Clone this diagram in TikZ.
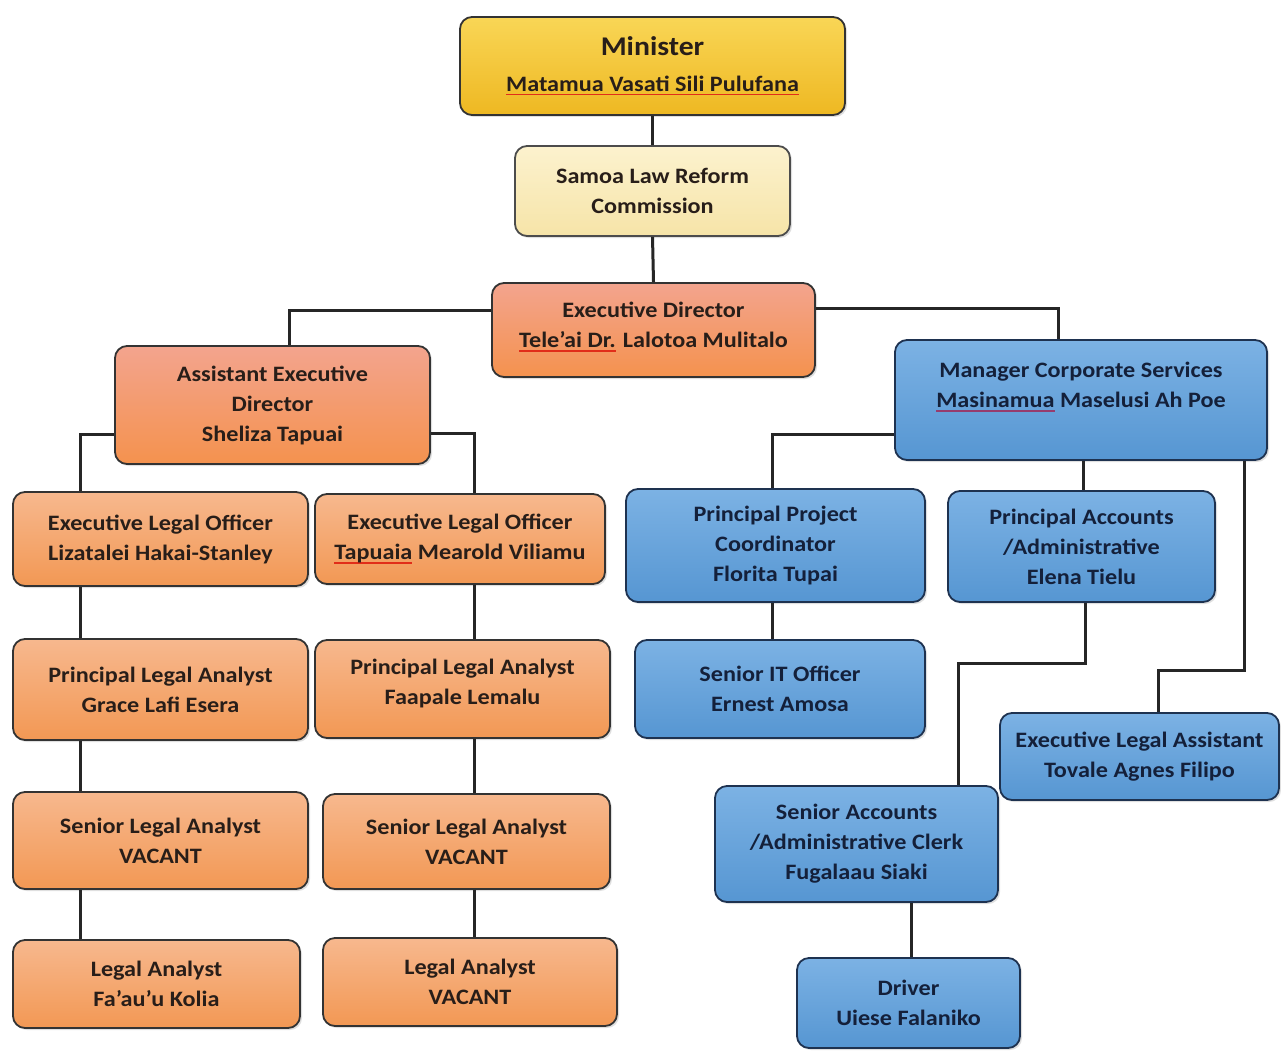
\documentclass[tikz,border=0pt]{standalone}
\usepackage{fontspec}
\setmainfont{Carlito}[FakeStretch=1.1]
\usetikzlibrary{shadows}
\definecolor{txtdark}{RGB}{40,30,25}
\definecolor{txtblue}{RGB}{20,32,58}
\definecolor{ulred}{RGB}{225,45,25}
\definecolor{ulpurple}{RGB}{150,60,110}
\newlength{\myulw}
\newcommand{\redul}[1]{\settowidth{\myulw}{#1}\rlap{\color{ulred}\rule[-4pt]{\myulw}{1.6pt}}#1}
\newcommand{\purpul}[1]{\settowidth{\myulw}{#1}\rlap{\color{ulpurple}\rule[-4pt]{\myulw}{1.4pt}}#1}
\begin{document}
\begin{tikzpicture}[x=1pt,y=-1pt,
  boxbase/.style={line width=1.8pt, rounded corners=12pt, align=center,
    font=\bfseries\fontsize{22}{30}\selectfont, inner sep=2pt,
    drop shadow={opacity=0.25,shadow xshift=2pt,shadow yshift=-2pt}},
  oranbox/.style={boxbase, draw=black!80, text=txtdark,
    top color={rgb,255:red,247;green,184;blue,142}, bottom color={rgb,255:red,242;green,152;blue,84}},
  pinkbox/.style={boxbase, draw=black!80, text=txtdark,
    top color={rgb,255:red,243;green,164;blue,142}, bottom color={rgb,255:red,244;green,146;blue,78}},
  goldbox/.style={boxbase, draw=black!80, text=txtdark,
    top color={rgb,255:red,249;green,214;blue,86}, bottom color={rgb,255:red,238;green,184;blue,34}},
  creambox/.style={boxbase, draw=black!70, text=txtdark,
    top color={rgb,255:red,252;green,242;blue,206}, bottom color={rgb,255:red,246;green,228;blue,168}},
  bluebox/.style={boxbase, draw={rgb,255:red,30;green,50;blue,80}, text=txtblue,
    top color={rgb,255:red,124;green,178;blue,228}, bottom color={rgb,255:red,86;green,150;blue,210}},
  link/.style={draw=black!85, line width=3pt}
]
\useasboundingbox[fill=white] (0,0) rectangle (1281,1051);

% column / joint coordinates
\coordinate (xA) at (289,0);
\coordinate (xMC) at (1058,0);
\coordinate (xL) at (80,0);
\coordinate (xR) at (474,0);
\coordinate (xP) at (772,0);
\coordinate (xM) at (1083,0);
\coordinate (xF) at (1158,0);
\coordinate (xS) at (958,0);
\coordinate (xD) at (911,0);
\coordinate (jE) at (1244,670);
\coordinate (jP) at (1085,663);

% nodes
\node[goldbox, minimum width=385, minimum height=98] (min) at (652.5,66)
  {\fontsize{27}{38}\selectfont Minister\\[6pt] \redul{Matamua Vasati Sili Pulufana}};
\node[creambox, minimum width=275, minimum height=90] (slrc) at (652.5,191)
  {Samoa Law Reform\\Commission};
\node[pinkbox, minimum width=323, minimum height=94, text depth=10pt] (ed) at (653.5,330)
  {Executive Director\\ \redul{Tele'ai Dr.} Lalotoa Mulitalo};
\node[pinkbox, minimum width=315, minimum height=118] (aed) at (272.5,405)
  {Assistant Executive\\Director\\Sheliza Tapuai};

\node[oranbox, minimum width=295, minimum height=94] (elo1) at (160.5,539)
  {Executive Legal Officer\\Lizatalei Hakai-Stanley};
\node[oranbox, minimum width=290, minimum height=90] (elo2) at (460,539)
  {Executive Legal Officer\\ \redul{Tapuaia} Mearold Viliamu};
\node[oranbox, minimum width=295, minimum height=101] (pla1) at (160.5,689.5)
  {Principal Legal Analyst\\Grace Lafi Esera};
\node[oranbox, minimum width=295, minimum height=98, text depth=14pt] (pla2) at (462.5,689)
  {Principal Legal Analyst\\Faapale Lemalu};
\node[oranbox, minimum width=295, minimum height=97] (sla1) at (160.5,840.5)
  {Senior Legal Analyst\\VACANT};
\node[oranbox, minimum width=287, minimum height=95] (sla2) at (466.5,841.5)
  {Senior Legal Analyst\\VACANT};
\node[oranbox, minimum width=287, minimum height=88] (la1) at (156.5,984)
  {Legal Analyst\\Fa'au'u Kolia};
\node[oranbox, minimum width=294, minimum height=88] (la2) at (470,982)
  {Legal Analyst\\VACANT};

\node[bluebox, minimum width=372, minimum height=120] (mcs) at (1081,400)
  {Manager Corporate Services\\ \purpul{Masinamua} Maselusi Ah Poe\\ \mbox{}};
\node[bluebox, minimum width=299, minimum height=113] (ppc) at (775.5,545.5)
  {Principal Project\\Coordinator\\Florita Tupai};
\node[bluebox, minimum width=267, minimum height=111] (paa) at (1081.5,546.5)
  {Principal Accounts\\/Administrative\\Elena Tielu};
\node[bluebox, minimum width=290, minimum height=98] (sito) at (780,689)
  {Senior IT Officer\\Ernest Amosa};
\node[bluebox, minimum width=279, minimum height=87] (ela) at (1139.5,756.5)
  {Executive Legal Assistant\\Tovale Agnes Filipo};
\node[bluebox, minimum width=283, minimum height=116] (saac) at (856.5,844)
  {Senior Accounts\\/Administrative Clerk\\Fugalaau Siaki};
\node[bluebox, minimum width=223, minimum height=90] (drv) at (908.5,1003)
  {Driver\\Uiese Falaniko};

% connectors
\draw[link] (min.south) -- (slrc.north);
\draw[link] (slrc.south) -- (ed.north);
\draw[link] ([yshift=20pt]ed.west) -| (aed.north -| xA);
\draw[link] ([yshift=22pt]ed.east) -| (mcs.north -| xMC);
\draw[link] ([yshift=-29pt]aed.west) -| (elo1.north -| xL);
\draw[link] ([yshift=-28pt]aed.east) -| (elo2.north -| xR);
\draw[link] (elo1.south -| xL) -- (pla1.north -| xL);
\draw[link] (pla1.south -| xL) -- (sla1.north -| xL);
\draw[link] (sla1.south -| xL) -- (la1.north -| xL);
\draw[link] (elo2.south -| xR) -- (pla2.north -| xR);
\draw[link] (pla2.south -| xR) -- (sla2.north -| xR);
\draw[link] (sla2.south -| xR) -- (la2.north -| xR);
\draw[link] ([yshift=-34pt]mcs.west) -| (ppc.north -| xP);
\draw[link] (mcs.south -| xM) -- (paa.north -| xM);
\draw[link] (mcs.south -| jE) -- (jE) -| (ela.north -| xF);
\draw[link] (ppc.south -| xP) -- (sito.north -| xP);
\draw[link] (paa.south -| jP) -- (jP) -| (saac.north -| xS);
\draw[link] (saac.south -| xD) -- (drv.north -| xD);
\end{tikzpicture}
\end{document}
